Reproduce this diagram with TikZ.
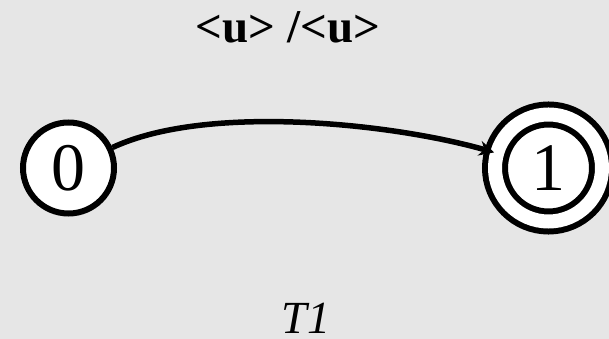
\documentclass[tikz,border=0pt]{standalone}
\usepackage{fontspec}
\setmainfont{Liberation Serif}
\usepackage{tikz}
\usetikzlibrary{arrows.meta,positioning}
\definecolor{bggray}{HTML}{E6E6E6}

\begin{document}
\begin{tikzpicture}[x=1pt,y=1pt]
  \tikzset{
    state/.style={circle, draw=black, fill=white, line width=6pt, minimum size=91pt, inner sep=0pt, font=\fontsize{68}{76}\selectfont},
    final/.style={state, minimum size=107pt, double=white, double distance=14pt, line width=6pt},
    trans/.style={-{Stealth[length=15pt,width=15pt]}, line width=5.5pt, black},
    lbl/.style={font=\fontsize{47}{56}\selectfont\bfseries, anchor=base},
    machname/.style={font=\fontsize{46}{54}\selectfont\itshape, anchor=base}
  }

  % background and frame
  \fill[bggray] (0,0) rectangle (609,339);
  \useasboundingbox (0,0) rectangle (609,339);

  % states
  \node[state] (s0) at (68.5,171) {0};
  \node[final] (s1) at (548.5,171) {1};

  % transition
  \draw[trans] (s0) to[out=25, in=164, looseness=0.7] (s1);

  % labels
  \node[lbl] (tlabel) at (288,296) {<u> /<u>};
  \node[machname] (tname) at (306,5) {T1};
\end{tikzpicture}
\end{document}
